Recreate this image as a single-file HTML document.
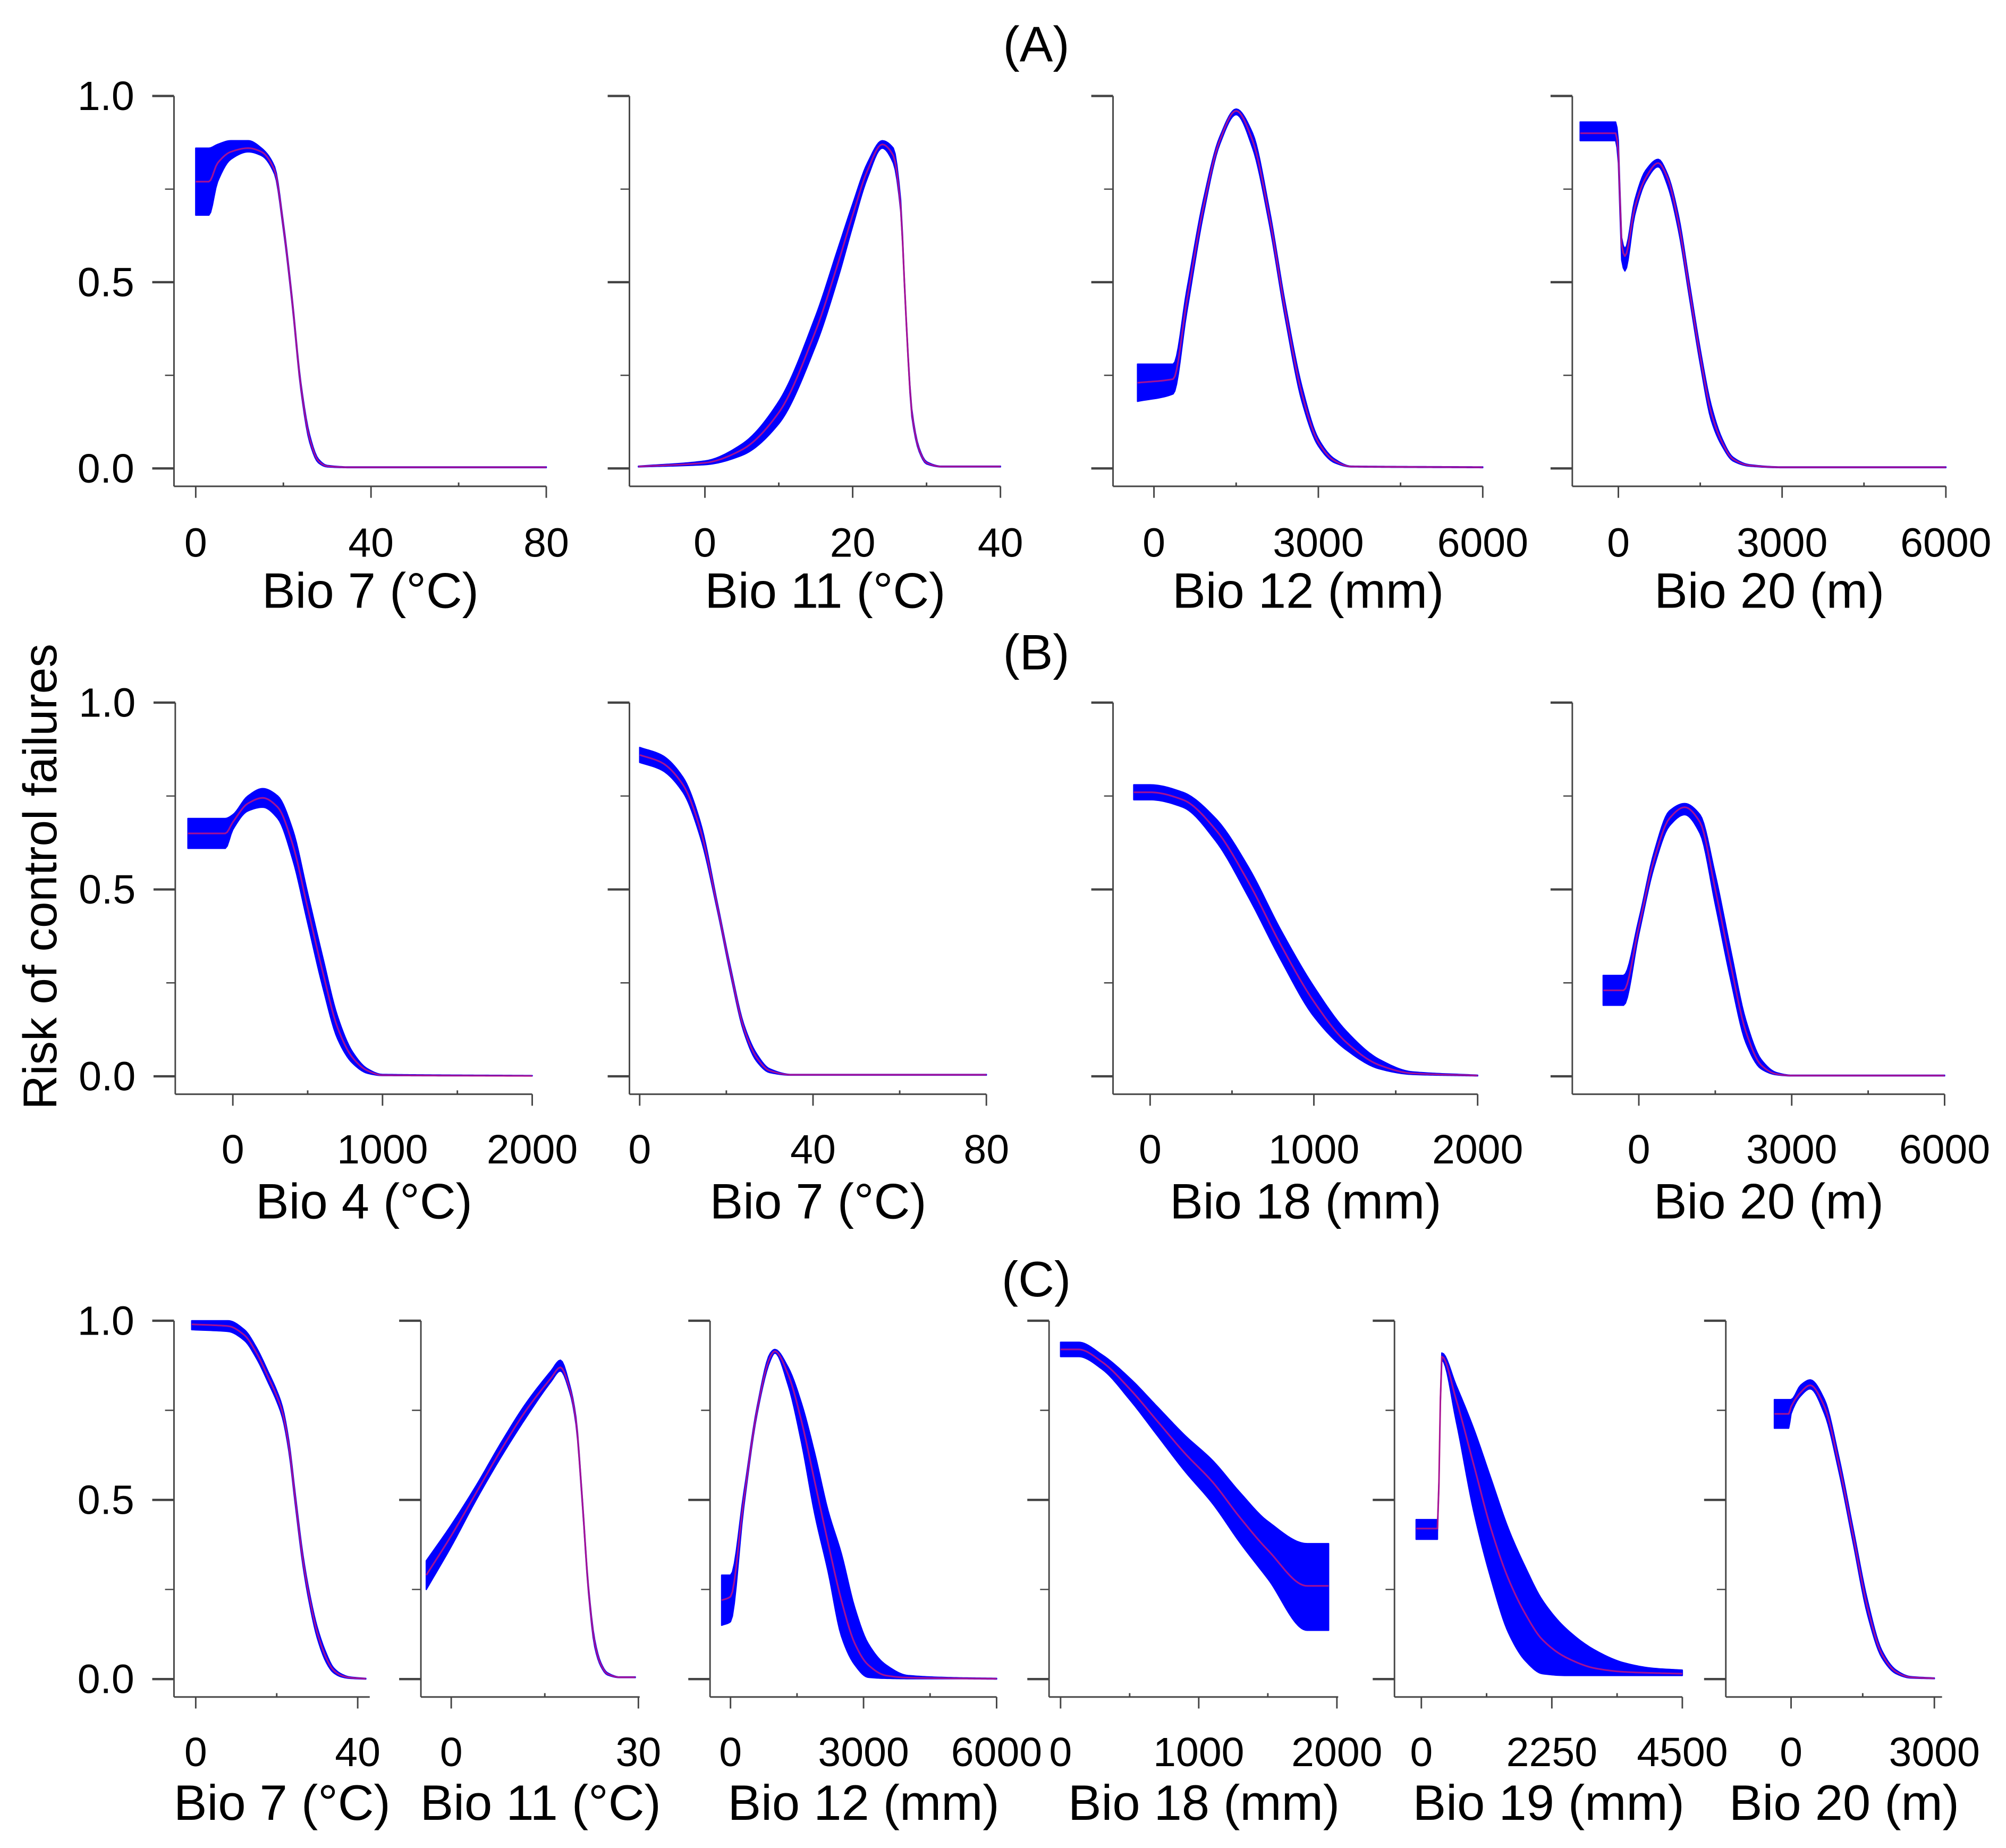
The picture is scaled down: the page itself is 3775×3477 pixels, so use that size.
<!DOCTYPE html>
<html><head><meta charset="utf-8"><style>
html,body{margin:0;padding:0;background:#fff;}
svg{display:block;}
text{font-family:"Liberation Sans",Arial,sans-serif;fill:#000;}
</style></head><body>
<svg id="fig" width="3775" height="3477" viewBox="0 0 1568 1444" preserveAspectRatio="none" xmlns="http://www.w3.org/2000/svg">
<rect x="0" y="0" width="1568" height="1444" fill="#fff"/>
<text x="810" y="48" font-size="39" text-anchor="middle">(A)</text>
<text x="810" y="523" font-size="39" text-anchor="middle">(B)</text>
<text x="810" y="1013" font-size="39" text-anchor="middle">(C)</text>
<text x="0" y="0" font-size="37" text-anchor="middle" transform="translate(44,685) rotate(-90)">Risk of control failures</text>
<g id="plots"></g>
</svg>
<script>
// ---- data ----
const a1X=[0,3,5,8,12,15,18,20,22,24,26,28,30,35,80];
const a1Mean=[0.77,0.77,0.82,0.85,0.86,0.85,0.80,0.65,0.45,0.22,0.08,0.02,0.006,0.003,0.003];
const a1Lo=[0.68,0.68,0.77,0.83,0.85,0.84,0.79,0.64,0.44,0.21,0.07,0.015,0.004,0.002,0.002];
const a1Hi=[0.86,0.86,0.87,0.88,0.88,0.86,0.81,0.66,0.46,0.23,0.09,0.025,0.008,0.004,0.004];

const a2X=[-9,0,5,10,15,18,20,22,24,25.5,26.5,27,27.5,28,29,30,32,40];
const a2Mean=[0.005,0.015,0.05,0.15,0.37,0.55,0.68,0.80,0.87,0.84,0.70,0.50,0.30,0.15,0.05,0.015,0.005,0.005];
const a2Lo=[0.004,0.01,0.035,0.12,0.33,0.51,0.65,0.78,0.86,0.82,0.69,0.49,0.29,0.14,0.045,0.012,0.004,0.004];
const a2Hi=[0.006,0.02,0.065,0.18,0.41,0.59,0.71,0.82,0.88,0.86,0.72,0.51,0.31,0.16,0.055,0.018,0.006,0.006];

const a3X=[-300,350,600,900,1200,1500,1800,2100,2400,2700,3000,3300,3600,6000];
const a3Mean=[0.23,0.24,0.45,0.70,0.88,0.96,0.88,0.68,0.42,0.20,0.07,0.02,0.005,0.003];
const a3Lo=[0.18,0.20,0.42,0.68,0.87,0.95,0.86,0.66,0.40,0.18,0.06,0.015,0.004,0.002];
const a3Hi=[0.28,0.28,0.48,0.72,0.89,0.965,0.90,0.70,0.44,0.22,0.08,0.025,0.006,0.004];

const a4X=[-700,-50,0,60,120,300,500,730,900,1100,1300,1500,1700,1900,2100,2400,3000,6000];
const a4Mean=[0.90,0.90,0.85,0.60,0.57,0.70,0.78,0.82,0.78,0.66,0.48,0.30,0.15,0.07,0.025,0.008,0.003,0.003];
const a4Lo=[0.88,0.88,0.82,0.56,0.53,0.68,0.77,0.81,0.76,0.64,0.46,0.28,0.13,0.06,0.02,0.006,0.002,0.002];
const a4Hi=[0.93,0.93,0.88,0.62,0.59,0.72,0.80,0.83,0.79,0.68,0.50,0.32,0.17,0.08,0.03,0.01,0.004,0.004];

const b1X=[-300,-50,0,100,200,300,400,500,600,700,800,900,1000,2000];
const b1Mean=[0.65,0.65,0.68,0.73,0.745,0.72,0.62,0.45,0.28,0.13,0.05,0.015,0.003,0.001];
const b1Lo=[0.61,0.61,0.66,0.71,0.72,0.69,0.58,0.41,0.24,0.10,0.035,0.008,0.002,0.001];
const b1Hi=[0.69,0.69,0.70,0.75,0.77,0.75,0.66,0.49,0.32,0.16,0.065,0.02,0.005,0.002];

const b2X=[0,5,10,14,18,21,24,27,30,35,80];
const b2Mean=[0.86,0.84,0.78,0.66,0.45,0.28,0.13,0.05,0.015,0.004,0.004];
const b2Lo=[0.84,0.82,0.76,0.64,0.44,0.27,0.12,0.04,0.01,0.003,0.003];
const b2Hi=[0.88,0.86,0.80,0.68,0.46,0.29,0.14,0.06,0.02,0.005,0.005];

const b3X=[-100,0,200,400,600,800,1000,1200,1400,1600,2000];
const b3Mean=[0.76,0.76,0.74,0.66,0.52,0.35,0.20,0.09,0.03,0.008,0.002];
const b3Lo=[0.74,0.74,0.72,0.63,0.48,0.31,0.16,0.07,0.02,0.005,0.001];
const b3Hi=[0.78,0.78,0.76,0.69,0.56,0.39,0.24,0.12,0.045,0.012,0.003];

const b4X=[-700,-300,0,300,600,900,1200,1500,1800,2100,2400,2700,3000,6000];
const b4Mean=[0.23,0.23,0.40,0.58,0.69,0.72,0.68,0.50,0.30,0.12,0.03,0.006,0.002,0.002];
const b4Lo=[0.19,0.19,0.38,0.56,0.67,0.70,0.65,0.46,0.26,0.09,0.02,0.004,0.001,0.001];
const b4Hi=[0.27,0.27,0.42,0.60,0.71,0.73,0.70,0.54,0.34,0.15,0.045,0.01,0.003,0.003];

const c1X=[-1,8,12,15,18,20,21.4,23,24.6,26.5,28.1,30,32.3,34,36,38,42];
const c1Mean=[0.99,0.985,0.96,0.91,0.84,0.79,0.745,0.65,0.50,0.33,0.226,0.13,0.057,0.025,0.01,0.004,0.001];
const c1Lo=[0.975,0.97,0.945,0.895,0.825,0.775,0.73,0.635,0.485,0.315,0.21,0.115,0.045,0.018,0.006,0.002,0.0];
const c1Hi=[1.0,1.0,0.975,0.925,0.855,0.805,0.76,0.665,0.515,0.345,0.24,0.145,0.07,0.032,0.014,0.006,0.002];

const c2X=[-4,0,4,8,12,16,17.5,19,20,21,22,23,24,25,27,29.5];
const c2Mean=[0.29,0.40,0.52,0.64,0.75,0.84,0.87,0.81,0.72,0.50,0.25,0.10,0.04,0.015,0.005,0.005];
const c2Lo=[0.25,0.37,0.50,0.62,0.73,0.83,0.86,0.80,0.71,0.49,0.24,0.09,0.035,0.012,0.004,0.004];
const c2Hi=[0.33,0.43,0.54,0.66,0.77,0.86,0.89,0.82,0.73,0.51,0.26,0.11,0.045,0.018,0.006,0.006];

const c3X=[-200,0,300,600,900,1000,1300,1600,1900,2200,2500,2800,3100,3500,4000,5000,6000];
const c3Mean=[0.22,0.23,0.50,0.75,0.90,0.915,0.85,0.72,0.55,0.38,0.22,0.10,0.04,0.01,0.004,0.002,0.001];
const c3Lo=[0.15,0.16,0.48,0.74,0.89,0.91,0.82,0.66,0.46,0.30,0.12,0.04,0.005,0.002,0.001,0.001,0.0];
const c3Hi=[0.29,0.29,0.52,0.76,0.91,0.92,0.87,0.77,0.63,0.47,0.35,0.20,0.10,0.04,0.01,0.004,0.002];

const c4X=[0,130,300,500,700,900,1100,1300,1500,1785,1785.1,1940];
const c4Mean=[0.92,0.92,0.885,0.81,0.72,0.63,0.55,0.45,0.36,0.26,0.26,0.26];
const c4Lo=[0.90,0.90,0.865,0.78,0.68,0.58,0.49,0.38,0.28,0.136,0.136,0.136];
const c4Hi=[0.94,0.94,0.905,0.84,0.76,0.68,0.61,0.52,0.44,0.378,0.378,0.378];

const c5X=[-90,278,278.1,353,600,900,1200,1500,1800,2087,2500,3000,3500,4000,4500];
const c5Mean=[0.42,0.42,0.42,0.90,0.78,0.60,0.42,0.28,0.18,0.11,0.06,0.03,0.02,0.017,0.015];
const c5Lo=[0.39,0.39,0.41,0.89,0.72,0.47,0.28,0.13,0.05,0.015,0.01,0.01,0.01,0.01,0.01];
const c5Hi=[0.445,0.445,0.43,0.91,0.82,0.70,0.56,0.42,0.31,0.22,0.14,0.08,0.045,0.03,0.025];

const c6X=[-350,-50,0,200,400,700,1000,1300,1600,1900,2200,2500,3000];
const c6Mean=[0.74,0.74,0.76,0.80,0.82,0.76,0.60,0.40,0.20,0.07,0.02,0.005,0.002];
const c6Lo=[0.70,0.70,0.74,0.79,0.81,0.74,0.58,0.38,0.18,0.06,0.015,0.003,0.001];
const c6Hi=[0.78,0.78,0.78,0.82,0.835,0.78,0.62,0.42,0.22,0.08,0.025,0.007,0.003];

const tickA1=[0,40,80], tickA2=[0,20,40], tickA3=[0,3000,6000], tickA4=[0,3000,6000];
const tickB1=[0,1000,2000], tickB2=[0,40,80], tickB3=[0,1000,2000], tickB4=[0,3000,6000];
const tickC1=[0,40], tickC2=[0,30], tickC3=[0,3000,6000], tickC4=[0,1000,2000], tickC5=[0,2250,4500], tickC6=[0,3000];
const yTicks=[0,0.5,1];
const yTickLabels=["0.0","0.5","1.0"];
const titles=["Bio 7 (°C)","Bio 11 (°C)","Bio 12 (mm)","Bio 20 (m)","Bio 4 (°C)","Bio 7 (°C)","Bio 18 (mm)","Bio 20 (m)","Bio 7 (°C)","Bio 11 (°C)","Bio 12 (mm)","Bio 18 (mm)","Bio 19 (mm)","Bio 20 (m)"];

// ---- layout (pixel geometry, not data) ----
const rowA={top:75,zero:366,bot:380,lab:435,tit:475};
const rowB={top:549,zero:841,bot:855,lab:909,tit:952};
const rowC={top:1032,zero:1312,bot:1326,lab:1380,tit:1422};
const panels=[
 {id:"a1",row:rowA,ax:136,end:427,v0:0,p0:153,v1:80,p1:427,X:a1X,M:a1Mean,L:a1Lo,H:a1Hi,T:tickA1,yl:true},
 {id:"a2",row:rowA,ax:492,end:782,v0:0,p0:551,v1:40,p1:782,X:a2X,M:a2Mean,L:a2Lo,H:a2Hi,T:tickA2},
 {id:"a3",row:rowA,ax:870,end:1159,v0:0,p0:902,v1:6000,p1:1159,X:a3X,M:a3Mean,L:a3Lo,H:a3Hi,T:tickA3},
 {id:"a4",row:rowA,ax:1229,end:1521,v0:0,p0:1265,v1:6000,p1:1521,X:a4X,M:a4Mean,L:a4Lo,H:a4Hi,T:tickA4},
 {id:"b1",row:rowB,ax:137,end:416,v0:0,p0:182,v1:2000,p1:416,X:b1X,M:b1Mean,L:b1Lo,H:b1Hi,T:tickB1,yl:true},
 {id:"b2",row:rowB,ax:492,end:771,v0:0,p0:500,v1:80,p1:771,X:b2X,M:b2Mean,L:b2Lo,H:b2Hi,T:tickB2},
 {id:"b3",row:rowB,ax:870,end:1155,v0:0,p0:899,v1:2000,p1:1155,X:b3X,M:b3Mean,L:b3Lo,H:b3Hi,T:tickB3},
 {id:"b4",row:rowB,ax:1229,end:1520,v0:0,p0:1281,v1:6000,p1:1520,X:b4X,M:b4Mean,L:b4Lo,H:b4Hi,T:tickB4},
 {id:"c1",row:rowC,ax:136,end:289,v0:0,p0:153,v1:40,p1:279.6,X:c1X,M:c1Mean,L:c1Lo,H:c1Hi,T:tickC1,yl:true},
 {id:"c2",row:rowC,ax:329,end:500,v0:0,p0:352.7,v1:30,p1:499,X:c2X,M:c2Mean,L:c2Lo,H:c2Hi,T:tickC2},
 {id:"c3",row:rowC,ax:555,end:779,v0:0,p0:571,v1:6000,p1:779,X:c3X,M:c3Mean,L:c3Lo,H:c3Hi,T:tickC3},
 {id:"c4",row:rowC,ax:820,end:1046,v0:0,p0:829,v1:2000,p1:1045,X:c4X,M:c4Mean,L:c4Lo,H:c4Hi,T:tickC4},
 {id:"c5",row:rowC,ax:1090,end:1315,v0:0,p0:1111,v1:4500,p1:1315,X:c5X,M:c5Mean,L:c5Lo,H:c5Hi,T:tickC5},
 {id:"c6",row:rowC,ax:1349,end:1518,v0:0,p0:1400,v1:3000,p1:1512,X:c6X,M:c6Mean,L:c6Lo,H:c6Hi,T:tickC6}
];
const NS="http://www.w3.org/2000/svg";
const root=document.getElementById("plots");
function mk(tag,attrs,parent){const e=document.createElementNS(NS,tag);for(const k in attrs)e.setAttribute(k,attrs[k]);parent.appendChild(e);return e;}

// monotone cubic interpolation sampled densely (rendering only)
function smooth(px,py){
  const n=px.length;if(n<3)return px.map((x,i)=>[x,py[i]]);
  const d=[],m=new Array(n);
  for(let i=0;i<n-1;i++){const h=px[i+1]-px[i];d.push(h>0.01?(py[i+1]-py[i])/h:0);}
  m[0]=d[0];m[n-1]=d[n-2];
  for(let i=1;i<n-1;i++){ if(d[i-1]*d[i]<=0) m[i]=0; else m[i]=2/(1/d[i-1]+1/d[i]); }
  const out=[];
  for(let i=0;i<n-1;i++){
    const h=px[i+1]-px[i];
    if(h<=0.01){out.push([px[i],py[i]]);continue;}
    const steps=Math.max(2,Math.ceil(h/1.5));
    for(let s=0;s<steps;s++){
      const t=s/steps,t2=t*t,t3=t2*t;
      const y=(2*t3-3*t2+1)*py[i]+(t3-2*t2+t)*h*m[i]+(-2*t3+3*t2)*py[i+1]+(t3-t2)*h*m[i+1];
      out.push([px[i]+t*h,y]);
    }
  }
  out.push([px[n-1],py[n-1]]);
  return out;
}

panels.forEach((p,i)=>{
  const g=mk("g",{},root);
  
  
  const xs=v=>p.p0+(v-p.v0)*(p.p1-p.p0)/(p.v1-p.v0);
  const ys=v=>p.row.zero-v*(p.row.zero-p.row.top);
  const PX=p.X.map(xs);
  const hi=smooth(PX,p.H.map(ys)), lo=smooth(PX,p.L.map(ys)), me=smooth(PX,p.M.map(ys));
  let d="M"+hi.map(q=>q[0].toFixed(2)+","+q[1].toFixed(2)).join("L");
  for(let k=lo.length-1;k>=0;k--) d+="L"+lo[k][0].toFixed(2)+","+lo[k][1].toFixed(2);
  d+="Z";
  const band=mk("path",{d:d,fill:"#0000ff",stroke:"#0000ff","stroke-width":"1","stroke-linejoin":"round"},g);
  
  
  const line=mk("path",{d:"M"+me.map(q=>q[0].toFixed(2)+","+q[1].toFixed(2)).join("L"),fill:"none",stroke:"#e8186a","stroke-width":"1.3","stroke-opacity":"0.7","stroke-linejoin":"round"},g);
  
  
  const ax=mk("g",{stroke:"#444","stroke-width":"1.2",fill:"none"},g);
  
  
  mk("line",{x1:p.ax,y1:p.row.top,x2:p.ax,y2:p.row.bot},ax);
  mk("line",{x1:p.ax,y1:p.row.bot,x2:p.end,y2:p.row.bot},ax);
  [0,0.25,0.5,0.75,1].forEach(v=>{
    const major=(v*2)%1===0;
    mk("line",{x1:p.ax-(major?17:7),y1:ys(v),x2:p.ax,y2:ys(v),"stroke-width":major?"1.8":"1"},ax);
  });
  for(let k=0;k<p.T.length;k++){
    mk("line",{x1:xs(p.T[k]),y1:p.row.bot,x2:xs(p.T[k]),y2:p.row.bot+9},ax);
    if(k<p.T.length-1){const mid=(p.T[k]+p.T[k+1])/2;mk("line",{x1:xs(mid),y1:p.row.bot-3,x2:xs(mid),y2:p.row.bot},ax);}
    const t=mk("text",{x:xs(p.T[k]),y:p.row.lab,"font-size":"32","text-anchor":"middle"},g);
    t.textContent=String(p.T[k]);
    
    
  }
  if(p.yl){
    yTicks.forEach((v,k)=>{
      const t=mk("text",{x:p.ax-31,y:ys(v)+11,"font-size":"32","text-anchor":"end"},g);
      t.textContent=yTickLabels[k];
      
      
    });
  }
  const tt=mk("text",{x:(p.ax+p.end)/2+8,y:p.row.tit,"font-size":"39","text-anchor":"middle"},g);
  tt.textContent=titles[i];
  
  
});
</script>
</body></html>
